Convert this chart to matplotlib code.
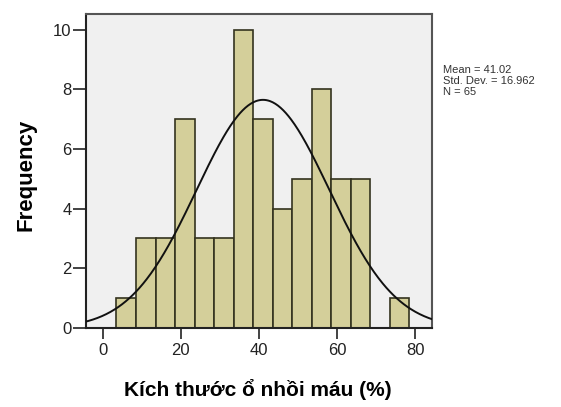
import numpy as np
import matplotlib
matplotlib.use("Agg")
import matplotlib.pyplot as plt

plt.rcParams['font.family'] = ['Liberation Sans', 'DejaVu Sans']

# histogram of infarct size, 5-point bins
bin_edges = [3.5, 8.5, 13.5, 18.5, 23.5, 28.5, 33.5, 38.5, 43.5, 48.5,
             53.5, 58.5, 63.5, 68.5, 73.5, 78.5]
counts = [1, 3, 3, 7, 3, 3, 10, 7, 4, 5, 8, 5, 5, 0, 1]
mean = 41.02
std_dev = 16.962
n_cases = 65

x_ticks = [0, 20, 40, 60, 80]
y_ticks = [0, 2, 4, 6, 8, 10]

fig = plt.figure(figsize=(5.61, 4.07), dpi=100)
ax = fig.add_axes([86 / 561, (407 - 328) / 407, (432 - 86) / 561, (328 - 14) / 407])
ax.set_facecolor('#f0f0f0')

lefts = np.array(bin_edges[:-1])
widths = np.diff(bin_edges)
for l, w, c in zip(lefts, widths, counts):
    if c > 0:
        ax.bar(l, c, width=w, align='edge', color='#d4cf9a',
               edgecolor='#34331f', linewidth=1.2, zorder=2)

# normal curve scaled to counts
bw = widths[0]
xs = np.linspace(-5, 85, 400)
ys = n_cases * bw / (std_dev * np.sqrt(2 * np.pi)) * np.exp(-0.5 * ((xs - mean) / std_dev) ** 2)
ax.plot(xs, ys, color='#111111', linewidth=1.4, zorder=3)

ax.set_xlim(-4.3, 84.3)
ax.set_ylim(0, 10.52)
ax.set_xticks(x_ticks)
ax.set_yticks(y_ticks)
ax.tick_params(axis='both', direction='out', width=1.2, color='#222222',
               labelsize=12, labelcolor='#222222')
ax.tick_params(axis='y', length=9.5, pad=1)
ax.tick_params(axis='x', length=8, pad=3)
for sp in ax.spines.values():
    sp.set_color('#555555')
    sp.set_linewidth(1.5)
ax.spines['left'].set_color('#222222')
ax.spines['bottom'].set_color('#222222')

ax.set_ylabel('Frequency', fontsize=16, fontweight='bold', va='center')
ax.yaxis.set_label_coords((26 - 86) / 346, (328 - 175) / 314)
ax.set_xlabel('Kích thước ổ nhồi máu (%)', fontsize=15, fontweight='bold', va='center')
ax.xaxis.set_label_coords((258 - 86) / 346, (328 - 390) / 314)

stats = f'Mean = {mean:.2f}\nStd. Dev. = {std_dev:.3f}\nN = {n_cases}'
fig.text(443 / 561, 1 - 65 / 407, stats, fontsize=8, va='top', ha='left',
         color='#333333', linespacing=1.15)

fig.savefig('out.png', dpi=100)
